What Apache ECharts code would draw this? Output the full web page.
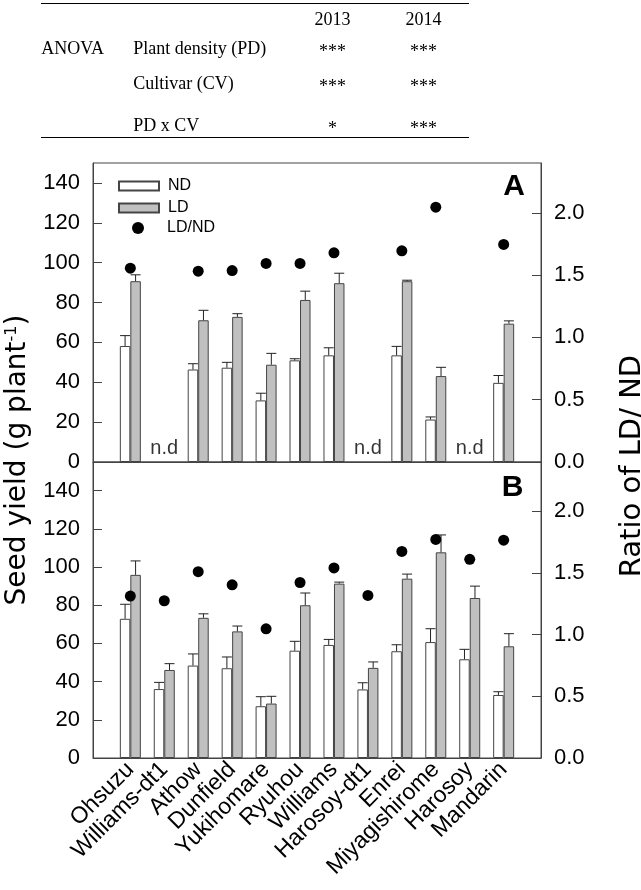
<!DOCTYPE html>
<html><head><meta charset="utf-8">
<script src="https://cdn.jsdelivr.net/npm/echarts@6/dist/echarts.min.js"></script>
<style>html,body{margin:0;padding:0;background:#fff}#c{width:641px;height:890px}</style>
</head><body><div id="c"></div>
<script>
// ---- data ----
const cultivars = ['Ohsuzu','Williams-dt1','Athow','Dunfield','Yukihomare','Ryuhou','Williams','Harosoy-dt1','Enrei','Miyagishirome','Harosoy','Mandarin'];
// Panel A
const ndA    = [58.2, null, 46.4, 47.3, 30.9, 51.0, 53.5, null, 53.5, 21.3, null, 39.7];
const ndAerr = [5.2,  null, 2.9,  2.7,  3.6,  0.8,  3.8,  null, 4.5,  1.3,  null, 3.7];
const ldA    = [90.7, null, 71.1, 72.8, 48.8, 81.3, 89.7, null, 90.7, 43.1, null, 69.4];
const ldAerr = [3.2,  null, 5.0,  1.6,  5.7,  4.4,  5.0,  null, 0.5,  4.4,  null, 1.4];
const ratioA = [1.556, null, 1.532, 1.537, 1.594, 1.594, 1.679, null, 1.695, 2.045, null, 1.746];
// Panel B
const ndB    = [72.9, 36.1, 48.4, 47.0, 27.1, 56.2, 59.2, 35.9, 55.9, 60.7, 51.7, 33.0];
const ndBerr = [7.6,  3.5,  6.1,  5.9,  5.0,  4.9,  2.9,  3.5,  3.4,  7.0,  5.2,  1.7];
const ldB    = [95.9, 46.1, 73.4, 66.3, 28.5, 80.0, 91.3, 47.2, 93.9, 107.7, 83.8, 58.5];
const ldBerr = [7.3,  3.3,  2.1,  2.8,  3.8,  6.4,  0.8,  3.1,  2.4,  9.1,  6.2,  6.6];
const ratioB = [1.313, 1.275, 1.511, 1.404, 1.047, 1.423, 1.541, 1.318, 1.675, 1.772, 1.611, 1.766];
// ANOVA table
const anovaYears = ['2013', '2014'];
const anovaFactors = ['Plant density (PD)', 'Cultivar (CV)', 'PD x CV'];
const sig2013 = ['***', '***', '*'];
const sig2014 = ['***', '***', '***'];

// ---- helpers ----
const SANS = 'Liberation Sans';
const SERIF = 'Liberation Serif';
const AX = '#444';
const BARW = 10.5;
function pts(vals){ return vals.map((v,i)=> v==null ? null : [i, v]).filter(d=>d); }
function errPts(vals, errs){ return vals.map((v,i)=> v==null ? null : [i, v, errs[i]]).filter(d=>d); }
function errSeries(vals, errs, off, xi, yi){
  return {
    type:'custom', xAxisIndex:xi, yAxisIndex:yi, z:5, silent:true,
    data: errPts(vals, errs), encode:{x:0, y:1},
    renderItem(params, api){
      const x = api.value(0), v = api.value(1), e = api.value(2);
      const b = api.coord([x, v]), t = api.coord([x, v + e]);
      const cx = b[0] + off;
      const st = {stroke:'#222', lineWidth:1};
      return {type:'group', children:[
        {type:'line', shape:{x1:cx, y1:b[1], x2:cx, y2:t[1]}, style:st},
        {type:'line', shape:{x1:cx-5, y1:t[1], x2:cx+5, y2:t[1]}, style:st}
      ]};
    }
  };
}
function barSeries(name, vals, color, xi, yi){
  return {name, type:'bar', xAxisIndex:xi, yAxisIndex:yi, data:pts(vals), barWidth:BARW, barGap:'0%',
    itemStyle:{color, borderColor:AX, borderWidth:1}, silent:true};
}
function ratioSeries(vals, xi, yi){
  return {name:'LD/ND', type:'scatter', xAxisIndex:xi, yAxisIndex:yi, data:pts(vals), symbolSize:11,
    itemStyle:{color:'#000', opacity:1}, silent:true, z:6};
}
function xAx(gi, labels){
  const o = {type:'value', gridIndex:gi, min:-1.1, max:12.1,
    axisLine:{show:true, onZero:false, lineStyle:{color:AX}}, axisTick:{show:false}, splitLine:{show:false},
    axisLabel:{show:false}};
  if (labels) o.axisLabel = {show:true, customValues: cultivars.map((c,i)=>i), formatter: v => cultivars[v],
    rotate:45, fontSize:23, fontFamily:SANS, color:'#000', margin:8};
  return o;
}
function yAx(gi, max, interval, pos, fmt){
  return {type:'value', gridIndex:gi, position:pos, min:0, max, interval,
    axisLine:{show:true, onZero:false, lineStyle:{color:AX}},
    axisTick:{show:true, inside:true, length:9, lineStyle:{color:AX}},
    splitLine:{show:false},
    axisLabel:{fontSize:22, fontFamily:SANS, color:'#000', margin:13, showMaxLabel:false, formatter:fmt}};
}
const ratioFmt = v => v.toFixed(1);
const intFmt = v => String(v);

// ---- table graphics ----
const g = [];
const rowY = [49.6, 84.6, 126.3];
const colX = [332.5, 423.5];
g.push({type:'line', shape:{x1:41, y1:3.5, x2:469, y2:3.5}, style:{stroke:'#000', lineWidth:1}});
g.push({type:'line', shape:{x1:41, y1:137.5, x2:469, y2:137.5}, style:{stroke:'#000', lineWidth:1}});
anovaYears.forEach((t,j)=> g.push({type:'text', x:colX[j], y:20.6, style:{text:t, font:'18px '+SERIF, fill:'#000', align:'center', verticalAlign:'middle'}}));
g.push({type:'text', x:41.3, y:rowY[0], style:{text:'ANOVA', font:'18px '+SERIF, fill:'#000', align:'left', verticalAlign:'middle'}});
anovaFactors.forEach((t,k)=>{
  g.push({type:'text', x:133.3, y:rowY[k], style:{text:t, font:'18px '+SERIF, fill:'#000', align:'left', verticalAlign:'middle'}});
  g.push({type:'text', x:colX[0], y:rowY[k]+3, style:{text:sig2013[k], font:'18px '+SERIF, fill:'#000', align:'center', verticalAlign:'middle'}});
  g.push({type:'text', x:colX[1], y:rowY[k]+3, style:{text:sig2014[k], font:'18px '+SERIF, fill:'#000', align:'center', verticalAlign:'middle'}});
});
// axis titles & panel letters
g.push({type:'text', x:18, y:460, rotation:Math.PI/2, style:{
  text:'Seed yield (g plant{sup|-1})', font:'28px DejaVu Sans', fill:'#000', align:'center', verticalAlign:'middle',
  rich:{sup:{fontSize:16, fontFamily:'DejaVu Sans', verticalAlign:'top', padding:[0,0,13,0]}}}});
g.push({type:'text', x:632, y:466, rotation:Math.PI/2, style:{
  text:'Ratio of LD/ ND', font:'29px DejaVu Sans', fill:'#000', align:'center', verticalAlign:'middle'}});
g.push({type:'text', x:514, y:187, style:{text:'A', font:'bold 30px '+SANS, fill:'#000', align:'center', verticalAlign:'middle'}});
g.push({type:'text', x:512.5, y:488, style:{text:'B', font:'bold 30px '+SANS, fill:'#000', align:'center', verticalAlign:'middle'}});

const chart = echarts.init(document.getElementById('c'), null, {renderer:'canvas'});
chart.setOption({
  animation:false,
  backgroundColor:'#fff',
  grid:[
    {left:93, top:163, width:448, height:299, show:true, borderColor:AX, borderWidth:1, backgroundColor:'transparent'},
    {left:93, top:462, width:448, height:296, show:true, borderColor:AX, borderWidth:1, backgroundColor:'transparent'}
  ],
  legend:[
    {left:118, top:178, padding:0, orient:'vertical', itemWidth:40, itemHeight:9, itemGap:6, selectedMode:false,
      data:[{name:'ND', icon:'rect'}, {name:'LD', icon:'rect'}],
      textStyle:{fontSize:16, fontFamily:SANS, color:'#000', padding:[0,0,0,4]}},
    {left:132, top:220, padding:0, orient:'vertical', itemWidth:40, itemHeight:12, selectedMode:false,
      data:[{name:'LD/ND', icon:'circle'}],
      textStyle:{fontSize:16, fontFamily:SANS, color:'#000', padding:[0,0,0,4]}}
  ],
  xAxis:[xAx(0,false), xAx(1,true)],
  yAxis:[yAx(0,150,20,'left',intFmt), yAx(0,2.4,0.5,'right',ratioFmt), yAx(1,155,20,'left',intFmt), yAx(1,2.4,0.5,'right',ratioFmt)],
  series:[
    barSeries('ND', ndA, '#ffffff', 0, 0),
    barSeries('LD', ldA, '#c0c0c0', 0, 0),
    errSeries(ndA, ndAerr, -BARW/2, 0, 0),
    errSeries(ldA, ldAerr, BARW/2, 0, 0),
    ratioSeries(ratioA, 0, 1),
    {type:'scatter', xAxisIndex:0, yAxisIndex:0, silent:true, symbolSize:1, itemStyle:{color:'transparent'},
      data: ndA.map((v,i)=> v==null ? [i,0] : null).filter(d=>d),
      label:{show:true, position:'top', distance:3, formatter:'n.d', fontSize:20, fontFamily:SANS, color:'#000'}},
    barSeries('ND', ndB, '#ffffff', 1, 2),
    barSeries('LD', ldB, '#c0c0c0', 1, 2),
    errSeries(ndB, ndBerr, -BARW/2, 1, 2),
    errSeries(ldB, ldBerr, BARW/2, 1, 2),
    ratioSeries(ratioB, 1, 3)
  ],
  graphic: g
});
</script></body></html>
